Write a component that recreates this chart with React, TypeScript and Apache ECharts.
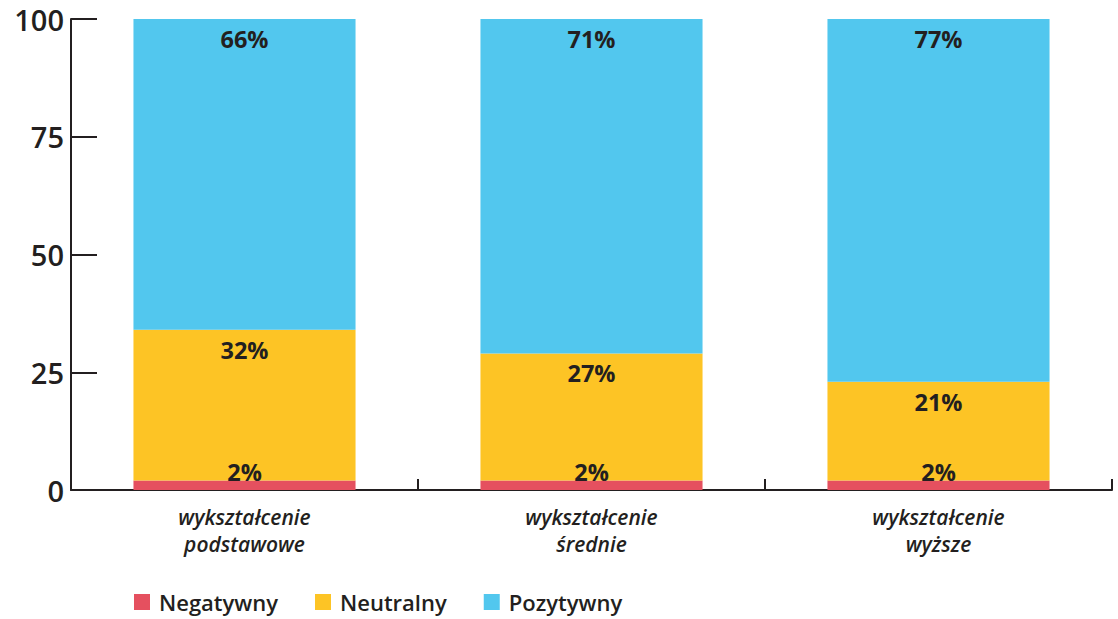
import React, { useEffect, useRef } from "react";
import * as echarts from "echarts";

const categories = ["wykształcenie\npodstawowe", "wykształcenie\nśrednie", "wykształcenie\nwyższe"];
const negatywny = [2, 2, 2];
const neutralny = [32, 27, 21];
const pozytywny = [66, 71, 77];
const yTicks = [0, 25, 50, 75, 100];

const TEXT = "#231f20";
const FONT = "Open Sans";

export default function App() {
  const ref = useRef<HTMLDivElement>(null);
  useEffect(() => {
    document.body.style.margin = "0";
    const chart = echarts.init(ref.current!, null, { renderer: "svg" });
    const labelBase = {
      show: true,
      color: TEXT,
      fontFamily: FONT,
      fontSize: 23.5,
      fontWeight: 700,
      formatter: (p: any) => p.value + "%",
    };
    chart.setOption({
      animation: false,
      textStyle: { fontFamily: FONT },
      grid: { left: 71, right: 6, top: 19, bottom: 129, containLabel: false },
      legend: {
        left: 134,
        top: 589,
        padding: 0,
        itemWidth: 16,
        itemHeight: 16,
        itemGap: 37,
        icon: "rect",
        textStyle: { fontFamily: FONT, fontSize: 22, fontWeight: 600, color: TEXT, lineHeight: 26, padding: [0, 0, 0, 4] },
        data: ["Negatywny", "Neutralny", "Pozytywny"],
      },
      xAxis: {
        type: "category",
        data: categories,
        axisLine: { show: true, lineStyle: { color: TEXT, width: 2 } },
        axisTick: { show: true, inside: true, length: 11, alignWithLabel: false, lineStyle: { color: TEXT, width: 2 } },
        axisLabel: {
          color: TEXT,
          fontFamily: FONT,
          fontSize: 21,
          fontStyle: "italic",
          fontWeight: 600,
          lineHeight: 27,
          margin: 13,
        },
      },
      yAxis: {
        type: "value",
        min: 0,
        max: 100,
        interval: 25,
        axisLine: { show: true, lineStyle: { color: TEXT, width: 2 } },
        axisTick: { show: true, inside: true, length: 26, lineStyle: { color: TEXT, width: 2 } },
        splitLine: { show: false },
        axisLabel: {
          color: TEXT,
          fontFamily: FONT,
          fontSize: 29,
          fontWeight: 600,
          margin: 7,
          formatter: (v: number) => (yTicks.includes(v) ? String(v) : ""),
        },
      },
      series: [
        {
          name: "Negatywny",
          type: "bar",
          stack: "total",
          data: negatywny,
          barCategoryGap: "36%",
          itemStyle: { color: "#E5505F" },
          label: { ...labelBase, position: "top", distance: -3 },
        },
        {
          name: "Neutralny",
          type: "bar",
          stack: "total",
          data: neutralny,
          itemStyle: { color: "#FDC425" },
          label: { ...labelBase, position: "insideTop", distance: 8 },
        },
        {
          name: "Pozytywny",
          type: "bar",
          stack: "total",
          data: pozytywny,
          itemStyle: { color: "#52C7EE" },
          label: { ...labelBase, position: "insideTop", distance: 8 },
        },
      ],
    });
    return () => chart.dispose();
  }, []);
  return <div ref={ref} style={{ width: 1118, height: 619 }} />;
}
